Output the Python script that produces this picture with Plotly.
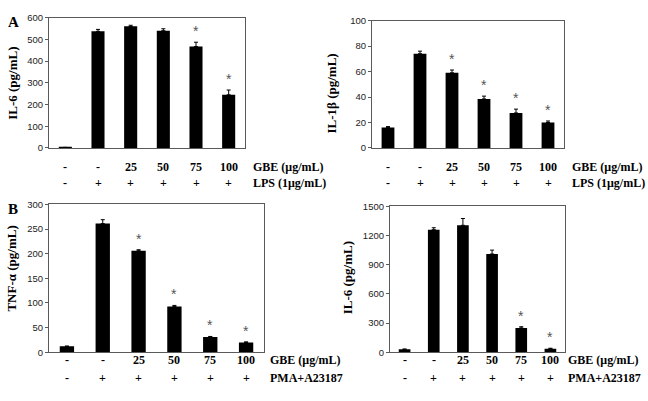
import plotly.graph_objects as go

W, H = 648, 401

cats = ["c1", "c2", "c3", "c4", "c5", "c6"]
gbe_labels = ["-", "-", "25", "50", "75", "100"]
stim_labels = ["-", "+", "+", "+", "+", "+"]

# Panel A1: IL-6 (LPS)
a1_vals = [2, 537, 560, 540, 467, 245]
a1_err = [1, 9, 5, 9, 20, 22]
a1_star = [False, False, False, False, True, True]
# Panel A2: IL-1beta (LPS)
a2_vals = [16, 74, 59, 38.5, 27.5, 20]
a2_err = [0.8, 2, 2.2, 2.2, 3, 1.2]
a2_star = [False, False, True, True, True, True]
# Panel B1: TNF-alpha (PMA+A23187)
b1_vals = [12, 261, 206, 93, 31, 20]
b1_err = [0.5, 8, 2, 2, 1, 1]
b1_star = [False, False, True, True, True, True]
# Panel B2: IL-6 (PMA+A23187)
b2_vals = [30, 1260, 1305, 1010, 250, 35]
b2_err = [3, 20, 70, 40, 12, 6]
b2_star = [False, False, False, False, True, True]


def px_x(p):
    return p / W


def px_y(p):
    return 1 - p / H


panels = [
    dict(vals=a1_vals, err=a1_err, star=a1_star, xd=(49, 245), yd=(146, 12),
         yr=[0, 600], dt=100, title="IL-6 (pg/mL)", tx=13, ty=80,
         row1=166, row2=182, lx=251, lab2="LPS (1μg/mL)"),
    dict(vals=a2_vals, err=a2_err, star=a2_star, xd=(372, 564), yd=(146, 15),
         yr=[0, 100], dt=20, title="IL-1β (pg/mL)", tx=332, ty=90,
         row1=166, row2=182, lx=570, lab2="LPS (1μg/mL)"),
    dict(vals=b1_vals, err=b1_err, star=b1_star, xd=(49, 264), yd=(356, 204),
         yr=[0, 300], dt=50, title="TNF-α (pg/mL)", tx=12, ty=270,
         row1=364, row2=383, lx=268, lab2="PMA+A23187"),
    dict(vals=b2_vals, err=b2_err, star=b2_star, xd=(390, 565), yd=(356, 206),
         yr=[0, 1500], dt=300, title="IL-6 (pg/mL)", tx=347, ty=280,
         row1=364, row2=383, lx=566, lab2="PMA+A23187"),
]

fig = go.Figure()
annotations = []
layout = {}
serif = "Liberation Serif"
sans = "Liberation Sans"
frame_col = "#5a5a5a"

for i, p in enumerate(panels, start=1):
    xa = "x" if i == 1 else f"x{i}"
    ya = "y" if i == 1 else f"y{i}"
    fig.add_trace(go.Bar(
        x=cats, y=p["vals"], xaxis=xa, yaxis=ya,
        marker=dict(color="black", line=dict(width=0)),
        width=0.4,
        error_y=dict(type="data", array=p["err"], arrayminus=[0] * 6,
                     symmetric=False, color="black", thickness=1, width=2),
        showlegend=False,
    ))
    layout["xaxis" if i == 1 else f"xaxis{i}"] = dict(
        domain=[px_x(p["xd"][0]), px_x(p["xd"][1])], anchor=ya,
        showticklabels=False, ticks="", showgrid=False, zeroline=False,
        showline=True, linecolor=frame_col, linewidth=1.2, mirror=True,
        categoryorder="array", categoryarray=cats)
    layout["yaxis" if i == 1 else f"yaxis{i}"] = dict(
        domain=[px_y(p["yd"][0]), px_y(p["yd"][1])], anchor=xa,
        range=p["yr"], dtick=p["dt"], ticks="outside", ticklen=3,
        tickcolor=frame_col, showgrid=False, zeroline=False,
        showline=True, linecolor=frame_col, linewidth=1.2, mirror=True,
        tickfont=dict(family=sans, size=9.5, color="#222222"))
    annotations.append(dict(
        text=f"<b>{p['title']}</b>", xref="paper", yref="paper",
        x=px_x(p["tx"]), y=px_y(p["ty"]), textangle=-90, showarrow=False,
        xanchor="center", yanchor="middle",
        font=dict(family=serif, size=13, color="black")))
    for c, g, s in zip(cats, gbe_labels, stim_labels):
        annotations.append(dict(text=f"<b>{g}</b>", xref=xa, yref="paper",
                                x=c, y=px_y(p["row1"]), showarrow=False,
                                xanchor="center", yanchor="middle",
                                font=dict(family=serif, size=12, color="black")))
        annotations.append(dict(text=f"<b>{s}</b>", xref=xa, yref="paper",
                                x=c, y=px_y(p["row2"]), showarrow=False,
                                xanchor="center", yanchor="middle",
                                font=dict(family=serif, size=12, color="black")))
    annotations.append(dict(text="<b>GBE (μg/mL)</b>", xref="paper", yref="paper",
                            x=px_x(p["lx"]), y=px_y(p["row1"]), showarrow=False,
                            xanchor="left", yanchor="middle",
                            font=dict(family=serif, size=12, color="black")))
    annotations.append(dict(text=f"<b>{p['lab2']}</b>", xref="paper", yref="paper",
                            x=px_x(p["lx"]), y=px_y(p["row2"]), showarrow=False,
                            xanchor="left", yanchor="middle",
                            font=dict(family=serif, size=12, color="black")))
    for c, v, e, st in zip(cats, p["vals"], p["err"], p["star"]):
        if st:
            annotations.append(dict(text="*", xref=xa, yref=ya, x=c, y=v + e,
                                    showarrow=False, xanchor="center",
                                    yanchor="bottom", yshift=1,
                                    font=dict(family=sans, size=14, color="#555555")))

annotations.append(dict(text="<b>A</b>", xref="paper", yref="paper",
                        x=px_x(13), y=px_y(16), showarrow=False,
                        xanchor="center", yanchor="middle",
                        font=dict(family=serif, size=15, color="black")))
annotations.append(dict(text="<b>B</b>", xref="paper", yref="paper",
                        x=px_x(13), y=px_y(209), showarrow=False,
                        xanchor="center", yanchor="middle",
                        font=dict(family=serif, size=15, color="black")))

fig.update_layout(width=W, height=H, margin=dict(l=0, r=0, t=0, b=0),
                  paper_bgcolor="white", plot_bgcolor="white",
                  bargap=0.6, annotations=annotations, **layout)

fig.write_html("out.html")
